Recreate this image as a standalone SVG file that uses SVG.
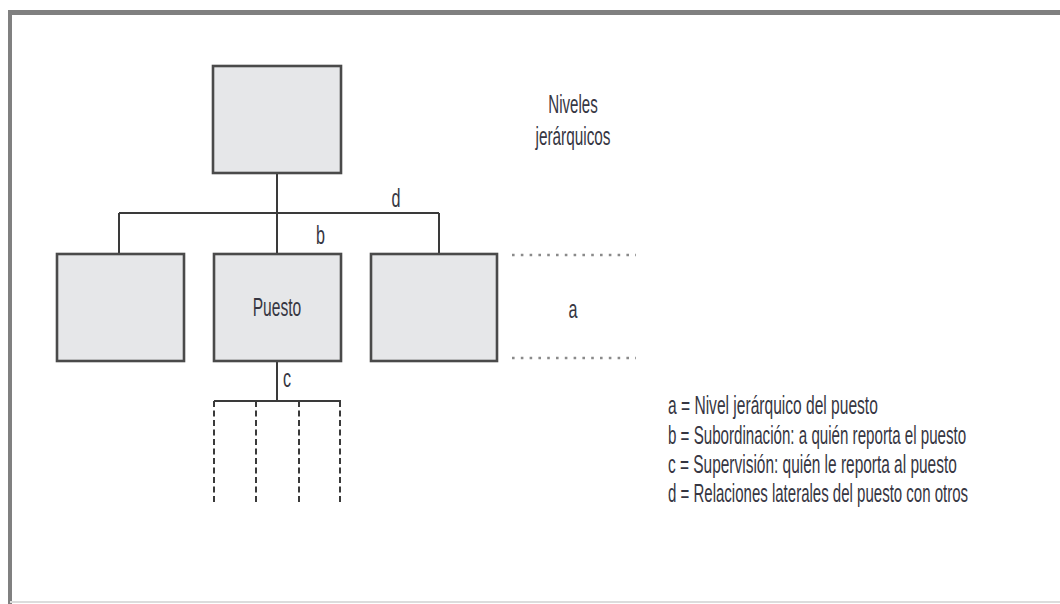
<svg xmlns="http://www.w3.org/2000/svg" width="1060" height="604" viewBox="0 0 1060 604">
  <style>
    .box { fill: #e6e7e9; stroke: #4a4a4a; stroke-width: 2.6; }
    .wire { fill: none; stroke: #3a3a3a; stroke-width: 2; }
    .dash { fill: none; stroke: #3a3a3a; stroke-width: 2; stroke-dasharray: 6 3.5; }
    .dots { fill: none; stroke: #8a8a8a; stroke-width: 2.6; stroke-dasharray: 2.6 6.2; }
    .lbl { font-family: "Liberation Sans", Arial, sans-serif; font-size: 26px; fill: #363642; }
    .mid { text-anchor: middle; }
  </style>

  <!-- page frame -->
  <rect x="0" y="0" width="1060" height="604" fill="#ffffff"/>
  <g id="frame">
    <line x1="8" y1="12.5" x2="1060" y2="12.5" stroke="#808080" stroke-width="5"/>
    <line x1="10" y1="10" x2="10" y2="604" stroke="#808080" stroke-width="4"/>
    <line x1="10" y1="602" x2="1060" y2="602" stroke="#dcdcdc" stroke-width="2"/>
  </g>

  <!-- connectors -->
  <g id="connectors">
    <path class="wire" d="M277 173 V213 M119 213 H439 M119 213 V254 M277 213 V254 M439 213 V254"/>
    <path class="wire" d="M277 361 V401 M214 401 H341"/>
    <path class="dash" d="M214 401 V503 M256 401 V503 M299 401 V503 M340 401 V503"/>
    <path class="dots" d="M512 255 H636 M512 358 H636"/>
  </g>

  <!-- nodes -->
  <g id="node-top">
    <rect class="box" x="213" y="66" width="128" height="107"/>
  </g>
  <g id="node-left">
    <rect class="box" x="57" y="254" width="127" height="107"/>
  </g>
  <g id="node-puesto">
    <rect class="box" x="214" y="254" width="127" height="107"/>
    <text class="lbl mid" transform="translate(277 316) scale(0.6 1)">Puesto</text>
  </g>
  <g id="node-right">
    <rect class="box" x="371" y="254" width="126" height="107"/>
  </g>

  <!-- relation letters -->
  <g id="letters">
    <text class="lbl mid" transform="translate(396 207) scale(0.62 1)">d</text>
    <text class="lbl mid" transform="translate(320.5 244) scale(0.62 1)">b</text>
    <text class="lbl mid" transform="translate(287 387) scale(0.62 1)">c</text>
    <text class="lbl mid" transform="translate(573 318) scale(0.62 1)">a</text>
  </g>

  <!-- level caption -->
  <g id="caption">
    <text class="lbl mid" transform="translate(573 113) scale(0.58 1)">Niveles</text>
    <text class="lbl mid" transform="translate(573 145) scale(0.59 1)">jerárquicos</text>
  </g>

  <!-- legend -->
  <g id="legend">
    <text class="lbl" transform="translate(668 414) scale(0.599 1)">a = Nivel jerárquico del puesto</text>
    <text class="lbl" transform="translate(668 444) scale(0.582 1)">b = Subordinación: a quién reporta el puesto</text>
    <text class="lbl" transform="translate(668 473) scale(0.594 1)">c = Supervisión: quién le reporta al puesto</text>
    <text class="lbl" transform="translate(668 502) scale(0.578 1)">d = Relaciones laterales del puesto con otros</text>
  </g>
</svg>
